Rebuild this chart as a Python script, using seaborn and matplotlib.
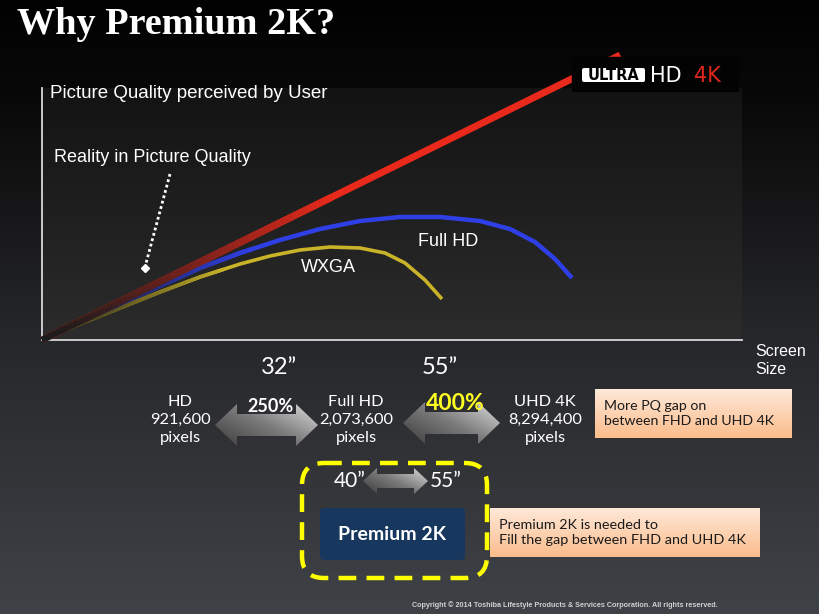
import numpy as np
import matplotlib
matplotlib.use("Agg")
import matplotlib.pyplot as plt
import seaborn as sns
from matplotlib.collections import LineCollection
from matplotlib.patches import FancyBboxPatch, Polygon, Rectangle
from matplotlib.colors import LinearSegmentedColormap, to_rgb

# perceived picture quality vs screen size (arbitrary units)
uhd_x = [0, 82.6]
uhd_y = [0, 114]
fhd_x = [0, 5.43, 11.14, 16.86, 22.57, 28.29, 34, 39.71, 45.43, 51.14, 56.86,
         62.57, 66.86, 70.43, 73.29, 75.71]
fhd_y = [0, 7.2, 14.4, 21.6, 28.8, 34.8, 40, 44.4, 47.6, 49.2, 49.2,
         47.6, 44.4, 39.2, 32.4, 24.8]
wxga_x = [0, 5.43, 11.14, 16.86, 22.57, 28.29, 32.57, 36.86, 41.14, 45.43, 49,
          51.86, 54.71, 57.14]
wxga_y = [0, 6.4, 12.8, 19.2, 25.2, 30.4, 33.6, 36, 37.2, 36.8, 34.8,
          30.8, 24, 16.4]

resolutions = ["HD", "Full HD", "UHD 4K"]
pixel_counts = ["921,600", "2,073,600", "8,294,400"]
gains = ["250%", "400%"]
sizes = ["32\u201d", "55\u201d"]
premium_range = ["40\u201d", "55\u201d"]

sns.set_theme(style="white")
plt.rcParams["font.family"] = ["Liberation Sans", "DejaVu Sans"]
CAL = ["Lato", "DejaVu Sans"]

fig = plt.figure(figsize=(8.19, 6.14), dpi=100, facecolor="black")

# background
bg = fig.add_axes([0, 0, 1, 1], zorder=0)
bg.axis("off")
bg_cmap = LinearSegmentedColormap.from_list(
    "bg", [(0, "#020202"), (0.15, "#080808"), (0.55, "#26272a"), (1, "#3f4247")])
bg.imshow(np.linspace(0, 1, 256)[:, None], cmap=bg_cmap, aspect="auto",
          extent=(0, 819, 614, 0))
pa_cmap = LinearSegmentedColormap.from_list("pa", ["#131313", "#2c2c2c"])
bg.imshow(np.linspace(0, 1, 256)[:, None], cmap=pa_cmap, aspect="auto",
          extent=(42, 742, 340, 88))
bg.set_xlim(0, 819)
bg.set_ylim(614, 0)

# chart
ax = fig.add_axes([42 / 819, (614 - 340) / 614, 700 / 819, 252 / 614], zorder=1)
ax.set_facecolor("none")
ax.set_xlim(0, 100)
ax.set_ylim(0, 100.8)
ax.set_xticks([])
ax.set_yticks([])
for s in ["top", "right"]:
    ax.spines[s].set_visible(False)
for s in ["left", "bottom"]:
    ax.spines[s].set_color("#d8d8d8")
    ax.spines[s].set_linewidth(1.3)


def fade_in(xs, ys, color, lw, frac):
    xs = np.asarray(xs, float)
    ys = np.asarray(ys, float)
    d = np.hypot(np.diff(xs) * 7, np.diff(ys) * 2.5)
    t = np.concatenate([[0], np.cumsum(d)]) / d.sum()
    s = np.linspace(0, frac, 120)
    px, py = np.interp(s, t, xs), np.interp(s, t, ys)
    segs = np.stack([np.column_stack([px[:-1], py[:-1]]),
                     np.column_stack([px[1:], py[1:]])], axis=1)
    dark = np.array(to_rgb("#1c1c1c"))
    c = np.array(to_rgb(color))
    w = (s[:-1] / frac)[:, None] ** 1.3
    cols = dark * (1 - w) + c * w
    lc = LineCollection(segs, colors=cols, linewidths=lw, capstyle="butt",
                        zorder=5, clip_on=False)
    ax.add_collection(lc)


curves = [(wxga_x, wxga_y, "#c9b328", 2.6, 0.45),
          (fhd_x, fhd_y, "#2f3fe6", 3.2, 0.4),
          (uhd_x, uhd_y, "#e8291b", 5.0, 0.5)]
for xs, ys, col, lw, frac in curves:
    sns.lineplot(x=xs, y=ys, ax=ax, color=col, linewidth=lw, sort=False,
                 estimator=None)
    ax.lines[-1].set_clip_on(False)
    ax.lines[-1].set_solid_capstyle("butt")
    ax.lines[-1].set_solid_joinstyle("round")
    fade_in(xs, ys, col, lw, frac)

# overlay for slide text / shapes, in pixel coordinates
ov = fig.add_axes([0, 0, 1, 1], zorder=3)
ov.axis("off")
ov.patch.set_visible(False)
ov.set_xlim(0, 819)
ov.set_ylim(614, 0)

ov.text(17, 25, "Why Premium 2K?", family=["Liberation Serif"], weight="bold",
        size=27.5, color="white", va="center")
ov.text(50, 93, "Picture Quality perceived by User", size=13.5, color="white",
        va="center")
ov.text(54, 158, "Reality in Picture Quality", size=13, color="white", va="center")
ov.plot([170, 145], [174, 267], color="white", ls=(0, (1, 1)), lw=2)
ov.plot([145], [268], marker="D", ms=4, color="white")
ov.text(418, 242, "Full HD", size=13, color="white", va="center")
ov.text(301, 268, "WXGA", size=13, color="white", va="center")
ov.text(755, 361, "Screen\nSize", size=11.5, color="white", va="center",
        linespacing=1.25)

# ULTRA HD 4K logo
ov.add_patch(Rectangle((572, 57), 166, 34, color="#030303", zorder=4))
ov.add_patch(FancyBboxPatch((582, 68), 63, 14, boxstyle="round,pad=0,rounding_size=2",
                            fc="white", ec="none", zorder=5))
ov.text(613.5, 75.5, "ULTRA", size=10.5, weight="bold", color="black",
        ha="center", va="center", zorder=6, family=["DejaVu Sans"])
ov.text(650, 75.5, "HD", size=15, color="white", va="center", zorder=6,
        family=["DejaVu Sans"])
ov.text(694, 75.5, "4K", size=15, color="#e0271c", va="center", zorder=6,
        family=["DejaVu Sans"])

# size labels
for x, lab in zip([279, 440], sizes):
    ov.text(x, 368, lab, size=17, color="white", ha="center", va="center",
            family=CAL)

# resolution stacks
for x, name, pix in zip([180, 356, 545], resolutions, pixel_counts):
    ov.text(x, 420, name + "\n" + pix + "\npixels", size=11.8, color="white",
            ha="center", va="center", family=CAL, linespacing=1.4)

ov.text(270, 406, gains[0], size=13, weight="bold", color="white",
        ha="center", va="center", family=CAL)
ov.text(455, 403, gains[1], size=16.5, weight="bold", color="#ffff22",
        ha="center", va="center", family=CAL)

arrow_cmap = LinearSegmentedColormap.from_list("ar", ["#3c3c3c", "#7a7a7a", "#dcdcdc"])


def double_arrow(x0, x1, yc, h, H, L):
    pts = [(x0, yc), (x0 + L, yc - H), (x0 + L, yc - h), (x1 - L, yc - h),
           (x1 - L, yc - H), (x1, yc), (x1 - L, yc + H), (x1 - L, yc + h),
           (x0 + L, yc + h), (x0 + L, yc + H)]
    poly = Polygon(pts, closed=True, fc="none", ec="none")
    ov.add_patch(poly)
    u = np.linspace(0, 1, 64)[None, :]
    v = np.linspace(0, 1, 64)[:, None]
    val = 0.55 * u + 0.45 * (1 - v)
    im = ov.imshow(val, cmap=arrow_cmap, aspect="auto", vmin=0, vmax=1,
                   extent=(x0, x1, yc + H, yc - H), zorder=2)
    im.set_clip_path(poly)


double_arrow(215, 318, 425, 11, 21, 22)
double_arrow(403, 500, 423, 11, 21, 22)
double_arrow(363, 428, 481, 7, 13, 14)

peach = LinearSegmentedColormap.from_list("pe", ["#fee8d8", "#fbbd8c"])


def note_box(x, y, w, h, text, size):
    r = Rectangle((x, y), w, h, fc="none", ec="none")
    ov.add_patch(r)
    im = ov.imshow(np.linspace(0, 1, 64)[:, None], cmap=peach, aspect="auto",
                   extent=(x, x + w, y + h, y), zorder=2)
    im.set_clip_path(r)
    ov.text(x + 9, y + h / 2, text, size=size, color="#1a1a1a", va="center",
            family=CAL, linespacing=1.3, zorder=3)


note_box(595, 389, 197, 49, "More PQ gap on\nbetween FHD and UHD 4K", 10.2)
note_box(490, 508, 270, 49, "Premium 2K is needed to\nFill the gap between FHD and UHD 4K", 10.4)

# premium 2K group
ov.add_patch(FancyBboxPatch((302, 463), 185, 115,
                            boxstyle="round,pad=0,rounding_size=22",
                            fc="none", ec="#ffff00", lw=3.2,
                            ls=(0, (4, 2.3)), zorder=3))
ov.add_patch(FancyBboxPatch((320, 508), 145, 52,
                            boxstyle="round,pad=0,rounding_size=4",
                            fc="#17375e", ec="none", zorder=3))
ov.text(392, 534, "Premium 2K", size=14, weight="bold", color="white",
        ha="center", va="center", family=CAL, zorder=4)
ov.text(350, 481, premium_range[0], size=15, color="white", ha="center",
        va="center", family=CAL)
ov.text(446, 481, premium_range[1], size=15, color="white", ha="center",
        va="center", family=CAL)

ov.text(565, 605, "Copyright \u00a9 2014 Toshiba Lifestyle Products & Services "
        "Corporation. All rights reserved.", size=5.2, weight="bold",
        color="#d0d0d0", ha="center", va="center")

ov.set_xlim(0, 819)
ov.set_ylim(614, 0)
fig.savefig("out.png", dpi=100, facecolor="black")
